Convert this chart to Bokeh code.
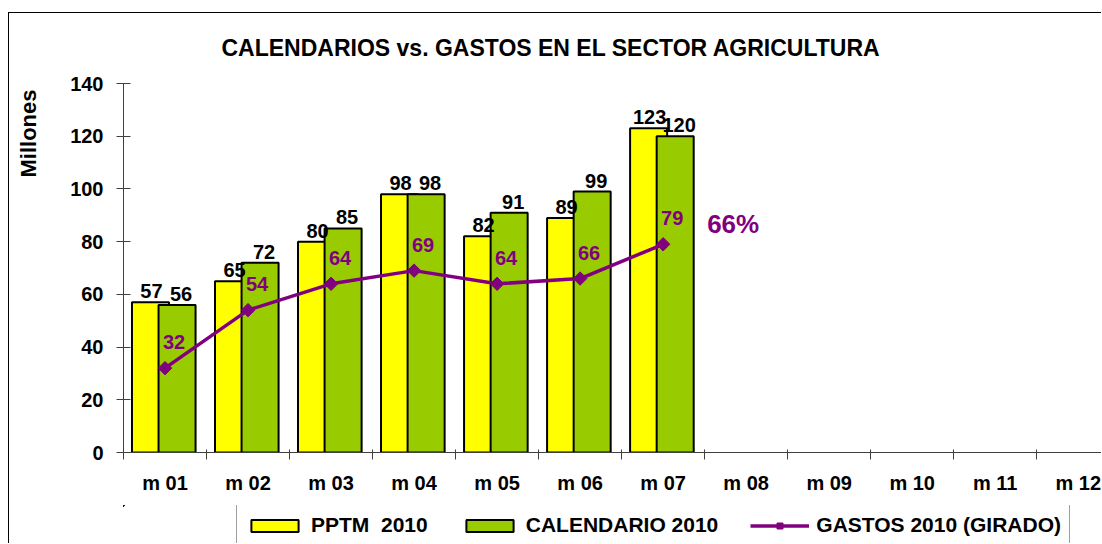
import math
from bokeh.plotting import figure
from bokeh.layouts import column
from bokeh.models import (Range1d, FixedTicker, Legend, LegendItem, ColumnDataSource)
from bokeh.core.properties import value
from bokeh.embed import file_html
from bokeh.resources import INLINE

# ---- data ----
months = ["m 01", "m 02", "m 03", "m 04", "m 05", "m 06",
          "m 07", "m 08", "m 09", "m 10", "m 11", "m 12"]
pptm_2010 = [57, 65, 80, 98, 82, 89, 123]
calendario_2010 = [56, 72, 85, 98, 91, 99, 120]
gastos_2010 = [32, 54, 64, 69, 64, 66, 79]
y_ticks = [0, 20, 40, 60, 80, 100, 120, 140]
title_text = "CALENDARIOS vs. GASTOS EN EL SECTOR AGRICULTURA"
y_title = "Millones"
series_names = ["PPTM  2010", "CALENDARIO 2010", "GASTOS 2010 (GIRADO)"]

FONT = "Liberation Sans"
YELLOW = "#FFFF00"
GREEN = "#99CC00"
PURPLE = "#800080"

n = len(pptm_2010)
centers = [i + 0.5 for i in range(n)]
bw = 0.446
x_y = [c - 0.175 for c in centers]
x_g = [c + 0.145 for c in centers]

src_y = ColumnDataSource(dict(x=x_y, top=pptm_2010, lab=[str(v) for v in pptm_2010]))
src_g = ColumnDataSource(dict(x=x_g, top=calendario_2010, lab=[str(v) for v in calendario_2010]))
src_l = ColumnDataSource(dict(x=centers, y=gastos_2010, lab=[str(v) for v in gastos_2010]))

p = figure(width=1092, height=492, output_backend="svg", toolbar_location=None,
           x_range=Range1d(0, 11.78), y_range=Range1d(0, 140),
           min_border_left=114, min_border_right=0, min_border_top=68, min_border_bottom=53)
p.outline_line_color = None
p.xgrid.grid_line_color = None
p.ygrid.grid_line_color = None
p.background_fill_color = "white"
p.border_fill_color = "white"

# title
p.title.text = title_text
p.title.align = "left"
p.title.vertical_align = "top"
p.title.offset = 98
p.title.standoff = 42
p.title.text_font = FONT
p.title.text_font_style = "bold"
p.title.text_font_size = "23px"
p.title.text_color = "black"

# x axis: labels at category centres, ticks at boundaries
xa = p.xaxis[0]
xa.ticker = FixedTicker(ticks=[i + 0.5 for i in range(len(months))],
                        minor_ticks=list(range(len(months) + 1)))
xa.major_label_overrides = {i + 0.5: m for i, m in enumerate(months)}
xa.major_tick_in = 0
xa.major_tick_out = 0
xa.minor_tick_in = 3
xa.minor_tick_out = 7
xa.minor_tick_line_color = "#404040"
xa.axis_line_color = "#404040"
xa.major_label_text_font = FONT
xa.major_label_text_font_style = "bold"
xa.major_label_text_font_size = "20px"
xa.major_label_text_color = "black"
xa.major_label_standoff = 12

ya = p.yaxis[0]
ya.ticker = FixedTicker(ticks=y_ticks, minor_ticks=[])
ya.major_tick_in = 7
ya.major_tick_out = 7
ya.major_tick_line_color = "#404040"
ya.axis_line_color = "#404040"
ya.major_label_text_font = FONT
ya.major_label_text_font_style = "bold"
ya.major_label_text_font_size = "20px"
ya.major_label_text_color = "black"
ya.major_label_standoff = 13
# axis title sits near the top of the axis: pad its start with no-break spaces
ya.axis_label = "\u00a0" * 44 + y_title
ya.axis_label_text_font = FONT
ya.axis_label_text_font_style = "bold"
ya.axis_label_text_font_size = "22px"
ya.axis_label_text_color = "black"
ya.axis_label_standoff = 26

# bars
ry = p.vbar(x="x", top="top", width=bw, source=src_y, fill_color=YELLOW,
            line_color="black", line_width=2)
rg = p.vbar(x="x", top="top", width=bw, source=src_g, fill_color=GREEN,
            line_color="black", line_width=2)

p.text(x="x", y="top", text="lab", source=src_y, text_align="center",
       text_baseline="bottom", y_offset=-4, x_offset=1,
       text_font=value(FONT), text_font_style="bold", text_font_size="20px",
       text_color="black")
p.text(x="x", y="top", text="lab", source=src_g, text_align="center",
       text_baseline="bottom", y_offset=-4, x_offset=4,
       text_font=value(FONT), text_font_style="bold", text_font_size="20px",
       text_color="black")

# line
rl = p.line(x="x", y="y", source=src_l, line_color=PURPLE, line_width=3.5)
rm = p.scatter(x="x", y="y", source=src_l, marker="square", angle=math.pi / 4,
               size=9.5, fill_color=PURPLE, line_color=PURPLE)
p.text(x="x", y="y", text="lab", source=src_l, text_align="center",
       text_baseline="bottom", x_offset=9, y_offset=-19,
       text_font=value(FONT), text_font_style="bold", text_font_size="20px",
       text_color=PURPLE)

pct = round(gastos_2010[-1] / calendario_2010[-1] * 100)
p.text(x=[centers[-1]], y=[gastos_2010[-1]], text=[f"{pct}%"], text_align="left",
       text_baseline="middle", x_offset=44, y_offset=-20,
       text_font=value(FONT), text_font_style="bold", text_font_size="26px",
       text_color=PURPLE)

# ---- legend strip (a second figure; its series proxies lie far outside its view) ----
lf = figure(width=1092, height=38, output_backend="svg", toolbar_location=None,
            x_axis_type=None, y_axis_type=None,
            x_range=Range1d(1000, 1001), y_range=Range1d(-2000, -1999),
            min_border_left=114, min_border_right=0, min_border_top=0, min_border_bottom=0)
lf.outline_line_color = None
lf.xgrid.grid_line_color = None
lf.ygrid.grid_line_color = None
lf.background_fill_color = "white"
lf.border_fill_color = "white"
ly = lf.vbar(x="x", top="top", width=bw, source=src_y, fill_color=YELLOW,
             line_color="black", line_width=2)
lg = lf.vbar(x="x", top="top", width=bw, source=src_g, fill_color=GREEN,
             line_color="black", line_width=2)
ll = lf.line(x="x", y="y", source=src_l, line_color=PURPLE, line_width=3.5)
lm = lf.scatter(x="x", y="y", source=src_l, marker="square", angle=math.pi / 4,
                size=9.5, fill_color=PURPLE, line_color=PURPLE)

legend = Legend(items=[LegendItem(label=series_names[0], renderers=[ly]),
                       LegendItem(label=series_names[1], renderers=[lg]),
                       LegendItem(label=series_names[2], renderers=[ll, lm])],
                orientation="horizontal", location=(113, -3),
                glyph_width=59, glyph_height=15, label_standoff=7, spacing=32,
                padding=8, margin=0, label_text_font=FONT, label_text_font_style="bold",
                label_text_font_size="21px", label_text_color="black",
                border_line_color="#404040", border_line_width=1,
                background_fill_color="white", background_fill_alpha=1)
lf.add_layout(legend)

root = column(p, lf, spacing=0,
              styles={"margin-top": "12px", "margin-left": "8px",
                      "border-left": "1px solid black", "border-top": "1px solid black"})

open("out.html", "w").write(file_html(root, INLINE))
